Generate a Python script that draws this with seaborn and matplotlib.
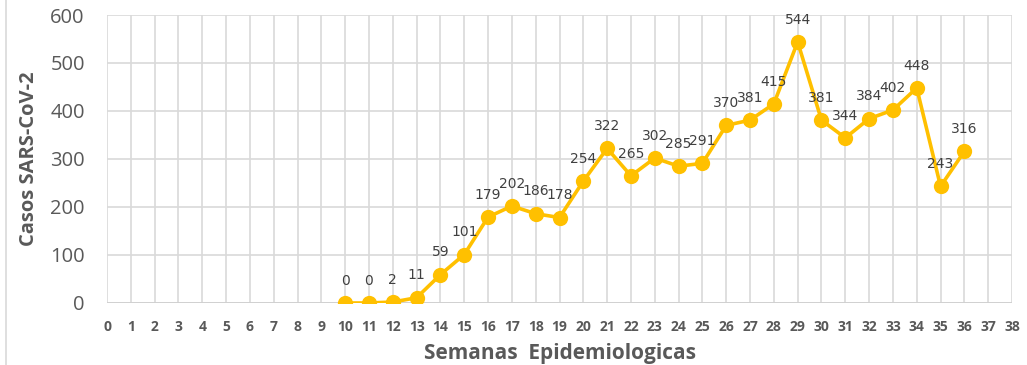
import matplotlib
matplotlib.use("Agg")
import matplotlib.pyplot as plt
import seaborn as sns
import pandas as pd
from matplotlib.lines import Line2D

# Weekly SARS-CoV-2 case counts by epidemiological week
weeks = [10, 11, 12, 13, 14, 15, 16, 17, 18, 19, 20, 21, 22, 23, 24, 25, 26, 27,
         28, 29, 30, 31, 32, 33, 34, 35, 36]
cases = [0, 0, 2, 11, 59, 101, 179, 202, 186, 178, 254, 322, 265, 302, 285, 291,
         370, 381, 415, 544, 381, 344, 384, 402, 448, 243, 316]
x_ticks = list(range(0, 39))
y_ticks = [0, 100, 200, 300, 400, 500, 600]

df = pd.DataFrame({"semana": weeks, "casos": cases})

sns.set_theme(style="whitegrid")
plt.rcParams["font.family"] = ["Open Sans", "DejaVu Sans"]

fig = plt.figure(figsize=(10.27, 3.65), dpi=100)
ax = fig.add_axes([0.1042, 0.1699, 0.8812, 0.789])

line_color = "#FFC000"
sns.lineplot(data=df, x="semana", y="casos", ax=ax, color=line_color,
             linewidth=2.6, marker="o", markersize=11, markeredgewidth=0,
             zorder=3)

for w, c in zip(weeks, cases):
    ax.annotate(str(c), (w, c), xytext=(0, 11), textcoords="offset points",
                ha="center", va="bottom", fontsize=10, color="#404040",
                family=["DejaVu Sans"])

ax.set_xlim(0, 38)
ax.set_ylim(0, 600)
ax.set_xticks(x_ticks)
ax.set_xticklabels([str(t) for t in x_ticks], fontsize=10, fontweight="bold",
                   color="#595959")
ax.set_yticks(y_ticks)
ax.set_yticklabels([str(t) for t in y_ticks], fontsize=14.5, color="#595959")
ax.tick_params(axis="x", pad=12, length=0)
ax.tick_params(axis="y", pad=16, length=0)

ax.grid(True, color="#D9D9D9", linewidth=1.2)
for s in ax.spines.values():
    s.set_visible(False)
ax.axhline(0, color="#D0D0D0", linewidth=1.3, zorder=1)

ax.set_xlabel("Semanas  Epidemiologicas", fontsize=15, fontweight="bold",
              color="#595959", labelpad=7)
ax.set_ylabel("Casos SARS-CoV-2", fontsize=14.5, fontweight="bold",
              color="#595959", labelpad=8)

# thin frame line on the left edge of the chart area
fig.add_artist(Line2D([0.006, 0.006], [0.0, 1.0], color="#D9D9D9",
                      linewidth=1.2, transform=fig.transFigure))

fig.savefig("out.png", dpi=100)
